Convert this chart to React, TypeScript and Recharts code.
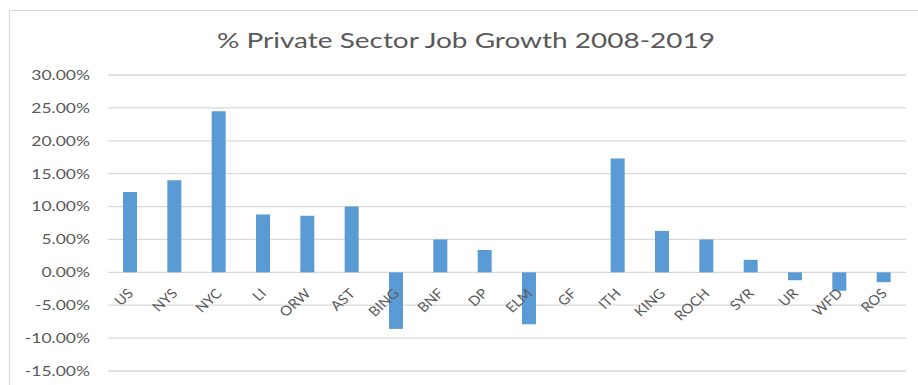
import React from 'react';
import { BarChart, Bar, XAxis, YAxis, CartesianGrid } from 'recharts';

const categories = ['US', 'NYS', 'NYC', 'LI', 'ORW', 'AST', 'BING', 'BNF', 'DP', 'ELM', 'GF', 'ITH', 'KING', 'ROCH', 'SYR', 'UR', 'WFD', 'ROS'];
const growth = [12.2, 14.0, 24.5, 8.8, 8.6, 10.0, -8.6, 5.0, 3.4, -7.9, 0, 17.3, 6.3, 5.0, 1.9, -1.2, -2.8, -1.5];
const yTicks = [-15, -10, -5, 0, 5, 10, 15, 20, 25, 30];
const title = '% Private Sector Job Growth 2008-2019';

const data = categories.map((name, i) => ({ name, growth: growth[i] }));

const W = 918;
const H = 385;
const TOP = 75;
const BOTTOM = 371;
const Y_MIN = -15;
const Y_MAX = 30;
// y of the zero line, where Excel puts the category labels
const ZERO_Y = TOP + ((Y_MAX - 0) / (Y_MAX - Y_MIN)) * (BOTTOM - TOP);

const TEXT = '#595959';
const FONT = 'Lato, sans-serif';

const YTick = (props: any) => {
  const { x, y, payload } = props;
  return (
    <text
      transform={`translate(${x},${y}) scale(1.25,1)`}
      textAnchor="end"
      dy="0.35em"
      fill={TEXT}
      fontSize={14}
      fontFamily={FONT}
    >
      {`${Number(payload.value).toFixed(2)}%`}
    </text>
  );
};

const XTick = (props: any) => {
  const { x, payload } = props;
  return (
    <text
      transform={`translate(${x + 4},${ZERO_Y + 22}) scale(1.1,1) rotate(-45)`}
      textAnchor="end"
      fill={TEXT}
      fontSize={13.5}
      fontFamily={FONT}
    >
      {payload.value}
    </text>
  );
};

document.body.style.margin = '0';

export default function App() {
  return (
    <div style={{ position: 'relative', width: W, height: H, overflow: 'hidden', background: '#fff' }}>
      <div
        style={{
          position: 'absolute',
          left: 9,
          top: 10,
          width: 1000,
          height: 600,
          border: '1.5px solid #d9d9d9',
        }}
      />
      <div style={{ position: 'absolute', left: 0, top: 0 }}>
        <BarChart
          width={W}
          height={H}
          data={data}
          margin={{ top: TOP, right: W - 906, left: 0, bottom: 0 }}
        >
          <CartesianGrid vertical={false} stroke="#d9d9d9" strokeWidth={1.3} />
          <XAxis
            dataKey="name"
            height={H - BOTTOM}
            axisLine={false}
            tickLine={false}
            interval={0}
            tick={<XTick />}
          />
          <YAxis
            width={108}
            domain={[Y_MIN, Y_MAX]}
            ticks={yTicks}
            axisLine={false}
            tickLine={false}
            tickSize={0}
            tickMargin={18}
            tick={<YTick />}
          />
          <Bar dataKey="growth" fill="#5b9bd5" barSize={14} isAnimationActive={false} />
        </BarChart>
      </div>
      <svg width={W} height={H} style={{ position: 'absolute', left: 0, top: 0, pointerEvents: 'none' }}>
        <text
          x={217}
          y={48}
          textLength={498}
          lengthAdjust="spacingAndGlyphs"
          fill={TEXT}
          fontSize={22}
          fontFamily={FONT}
        >
          {title}
        </text>
      </svg>
    </div>
  );
}
